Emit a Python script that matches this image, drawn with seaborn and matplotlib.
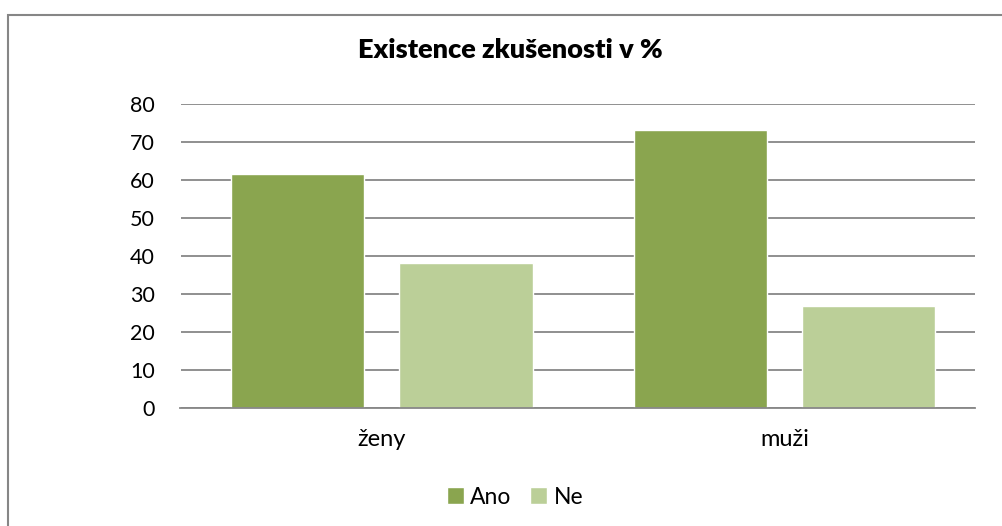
import pandas as pd
import matplotlib
matplotlib.use("Agg")
import matplotlib.pyplot as plt
from matplotlib.patches import Rectangle
import seaborn as sns

# --- data ---
skupiny = ["ženy", "muži"]
odpovedi = ["Ano", "Ne"]
ano = [61.4, 73.2]
ne = [38.0, 26.8]
y_ticks = [0, 10, 20, 30, 40, 50, 60, 70, 80]

df = pd.DataFrame({
    "skupina": skupiny * 2,
    "odpoved": ["Ano"] * len(skupiny) + ["Ne"] * len(skupiny),
    "procent": ano + ne,
})

sns.set_theme(style="white")
plt.rcParams["font.family"] = ["Lato", "DejaVu Sans"]
plt.rcParams["text.color"] = "black"

W, H = 1003, 526
fig = plt.figure(figsize=(W / 100, H / 100), dpi=100)
ax = fig.add_axes([180.5 / W, 1 - 407.7 / H, (975 - 180.5) / W, (407.7 - 103.8) / H])

sns.barplot(data=df, x="skupina", y="procent", hue="odpoved", order=skupiny,
            hue_order=odpovedi, palette=["#8AA54F", "#BBCF98"], saturation=1,
            width=0.835, gap=0.208, ax=ax, legend=True)

ax.set_ylim(0, 80)
ax.set_xlim(-0.5, 1.4727)
ax.set_yticks(y_ticks)
ax.yaxis.grid(True, color="#878787", lw=1.3)
ax.set_axisbelow(True)
for s in ["top", "right", "left"]:
    ax.spines[s].set_visible(False)
ax.spines["bottom"].set_color("#878787")
ax.spines["bottom"].set_linewidth(1.3)
ax.tick_params(axis="y", length=0, pad=18.5, labelsize=15.5, labelcolor="black")
ax.tick_params(axis="x", length=0, pad=15, labelsize=17, labelcolor="black")
ax.set_xlabel("")
ax.set_ylabel("")

leg = ax.legend(loc="center", bbox_to_anchor=(515 / W, 1 - 497 / H),
                bbox_transform=fig.transFigure, ncol=2, frameon=False, fontsize=16.5,
                handlelength=0.75, handleheight=0.75, handletextpad=0.28,
                columnspacing=0.8, borderpad=0)
for t in leg.get_texts():
    t.set_color("black")

fig.text(510 / W, 1 - 50 / H, "Existence zkušenosti v %", ha="center",
         va="center", fontsize=19.5, fontweight="heavy", color="black")

# chart frame (right and bottom edges fall outside the picture)
fig.patches.append(Rectangle((8.5 / W, -0.1), 1.2, 1.1 - 14.5 / H,
                             transform=fig.transFigure, fill=False,
                             edgecolor="#868686", lw=1.5))

fig.savefig("out.png", dpi=100)
